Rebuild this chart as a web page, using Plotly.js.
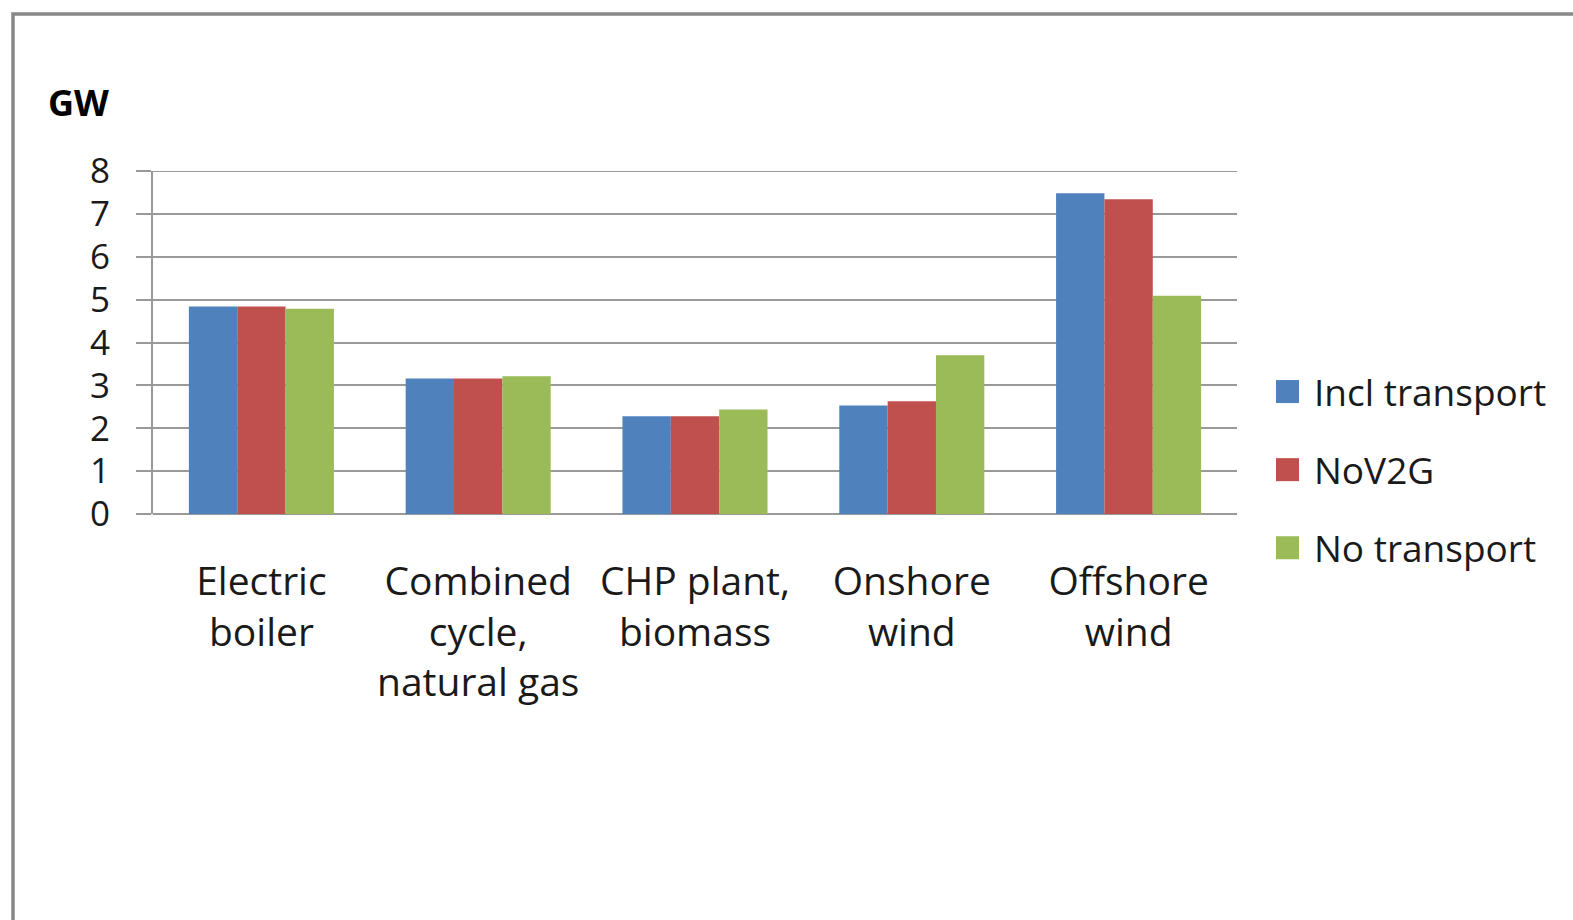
<!DOCTYPE html>
<html>
<head>
<meta charset="utf-8">
<script src="https://cdn.plot.ly/plotly-3.0.1.min.js"></script>
<style>
html,body{margin:0;padding:0;background:#fff;}
#chart{width:1573px;height:920px;}
</style>
</head>
<body>
<div id="chart"></div>
<script>
const categories = ["Electric<br>boiler", "Combined<br>cycle,<br>natural gas", "CHP plant,<br>biomass", "Onshore<br>wind", "Offshore<br>wind"];
const seriesNames = ["Incl transport", "NoV2G", "No transport"];
const inclTransport = [4.84, 3.16, 2.28, 2.53, 7.48];
const noV2G = [4.84, 3.16, 2.28, 2.63, 7.34];
const noTransport = [4.79, 3.21, 2.44, 3.70, 5.09];
const yTicks = [0, 1, 2, 3, 4, 5, 6, 7, 8];
const colors = ["#4F81BD", "#C0504D", "#9BBB59"];

const seriesValues = [inclTransport, noV2G, noTransport];
const traces = seriesValues.map((vals, i) => ({
  type: "bar",
  name: seriesNames[i],
  x: categories,
  y: vals,
  legendgroup: "g" + i,
  marker: {color: colors[i], line: {width: 0}},
  hoverinfo: "x+y+name"
}));

const font = "'Open Sans', 'Noto Sans', sans-serif";
const L = 153, R = 1237, T = 171, B = 514, W = 1573, H = 920;
const pw = R - L, ph = B - T;
const px = v => (v - L) / pw;
const py = v => (B - v) / ph;
const gridColor = "#999999";
const yMax = yTicks[yTicks.length - 1];

const layout = {
  width: W, height: H,
  margin: {l: L, r: W - R, t: T, b: H - B, pad: 0},
  paper_bgcolor: "#ffffff",
  plot_bgcolor: "#ffffff",
  bargap: 0.331,
  bargroupgap: 0,
  showlegend: true,
  font: {family: font, color: "#1a1a1a"},
  xaxis: {
    type: "category",
    showgrid: false,
    showline: false,
    zeroline: false,
    ticks: "",
    tickfont: {family: font, size: 39, color: "#1a1a1a"},
    ticklabelstandoff: 41,
    automargin: false,
    fixedrange: true
  },
  yaxis: {
    range: [0, yMax],
    tickvals: yTicks,
    ticktext: yTicks.map(String),
    showgrid: true,
    gridcolor: gridColor,
    gridwidth: 2,
    zeroline: true,
    zerolinecolor: gridColor,
    zerolinewidth: 2,
    showline: true,
    linecolor: gridColor,
    linewidth: 2,
    ticks: "outside",
    ticklen: 15,
    tickwidth: 2,
    tickcolor: gridColor,
    tickfont: {family: font, size: 35, color: "#1a1a1a"},
    ticklabelstandoff: 19,
    automargin: false,
    fixedrange: true
  },
  legend: {
    x: px(1274), xanchor: "left",
    y: py(470), yanchor: "middle",
    font: {family: font, size: 37, color: "#1a1a1a"},
    traceorder: "grouped",
    tracegroupgap: 27,
    bgcolor: "rgba(0,0,0,0)",
    borderwidth: 0
  },
  annotations: [{
    text: "<b>GW</b>",
    xref: "paper", yref: "paper",
    x: px(46), y: py(102),
    xanchor: "left", yanchor: "middle",
    showarrow: false,
    font: {family: font, size: 36, color: "#000000"}
  }],
  shapes: [{
    type: "rect",
    xref: "paper", yref: "paper",
    x0: px(13), x1: px(1600),
    y0: py(14), y1: py(960),
    line: {color: "#888888", width: 3.5},
    fillcolor: "rgba(0,0,0,0)",
    layer: "below"
  }, {
    type: "line",
    xref: "paper", yref: "y",
    x0: 0, x1: 1, y0: yMax, y1: yMax,
    line: {color: gridColor, width: 2},
    layer: "below"
  }]
};

Plotly.newPlot("chart", traces, layout, {displayModeBar: false, staticPlot: true}).then(() => {
  document.querySelectorAll("#chart .legendpoints path").forEach(p => {
    p.removeAttribute("transform");
    p.setAttribute("d", "M25,11.5H2V-11.5H25Z");
  });
});
</script>
</body>
</html>
